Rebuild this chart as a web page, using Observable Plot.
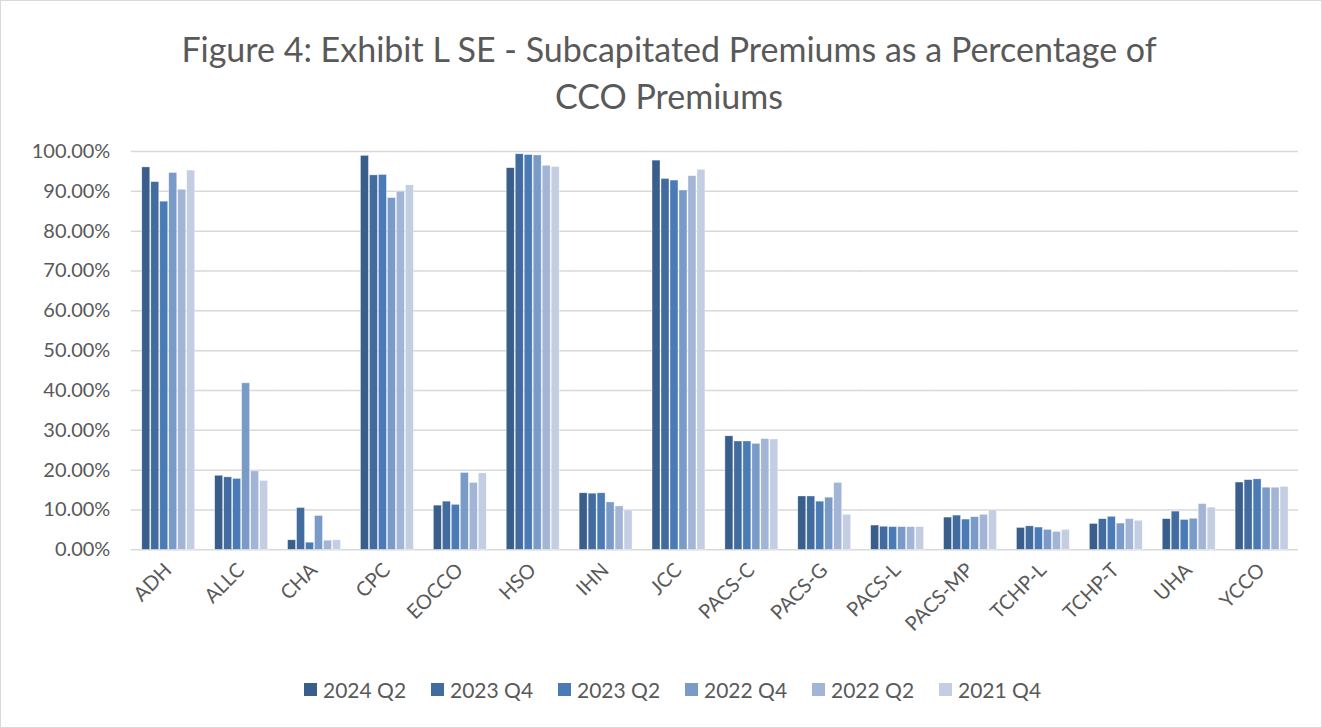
<!DOCTYPE html>
<html>
<head>
<meta charset="utf-8">
<script src="https://cdn.jsdelivr.net/npm/d3@7"></script>
<script src="https://cdn.jsdelivr.net/npm/@observablehq/plot@0.6"></script>
<style>
  html, body { margin: 0; padding: 0; background: #fff; }
  #frame { position: relative; width: 1320px; height: 726px; border: 1px solid #d9d9d9; background: #fff; overflow: hidden; font-family: Lato, "Open Sans", sans-serif; }
  #title { position: absolute; left: 0; top: 24px; width: 1336px; text-align: center; font-size: 34px; line-height: 47px; color: #595959; }
  #chart { position: absolute; left: 0; top: 130px; }
  #legend { position: absolute; left: 303px; top: 676px; display: flex; gap: 28px; font-size: 21px; color: #595959; }
  #legend .item { display: flex; align-items: center; gap: 6px; width: 99px; white-space: nowrap; }
  #legend .sw { width: 13px; height: 13px; display: inline-block; flex: none; }
</style>
</head>
<body>
<div id="frame">
  <div id="title">Figure 4: Exhibit L SE - Subcapitated Premiums as a Percentage of<br>CCO Premiums</div>
  <div id="chart"></div>
  <div id="legend"></div>
</div>
<script>
const categories = ["ADH","ALLC","CHA","CPC","EOCCO","HSO","IHN","JCC","PACS-C","PACS-G","PACS-L","PACS-MP","TCHP-L","TCHP-T","UHA","YCCO"];
const periods = ["2024 Q2","2023 Q4","2023 Q2","2022 Q4","2022 Q2","2021 Q4"];
const colors = ["#3a5e8c","#426ca0","#4a7bb7","#7a9bc8","#a3b5d6","#c3cee3"];
const yTicks = [0,10,20,30,40,50,60,70,80,90,100];

// values (%) per period, in category order
const v2024Q2 = [96.0,18.6,2.4,98.9,11.1,95.8,14.2,97.7,28.5,13.4,6.1,8.1,5.5,6.5,7.7,16.9];
const v2023Q4 = [92.3,18.2,10.5,94.0,12.1,99.3,14.1,93.1,27.2,13.4,5.8,8.6,5.9,7.7,9.6,17.5];
const v2023Q2 = [87.4,17.8,1.8,94.1,11.3,99.1,14.2,92.7,27.2,12.1,5.7,7.6,5.6,8.3,7.5,17.7];
const v2022Q4 = [94.6,41.8,8.5,88.3,19.3,99.0,11.9,90.2,26.6,13.1,5.7,8.2,5.0,6.6,7.8,15.6];
const v2022Q2 = [90.4,19.7,2.3,89.9,16.8,96.4,10.9,93.8,27.8,16.8,5.7,8.8,4.5,7.7,11.5,15.6];
const v2021Q4 = [95.2,17.3,2.4,91.5,19.2,96.1,9.9,95.4,27.7,8.8,5.7,9.9,5.0,7.3,10.6,15.8];

const series = [v2024Q2, v2023Q4, v2023Q2, v2022Q4, v2022Q2, v2021Q4];
const data = [];
categories.forEach((c, i) => {
  periods.forEach((p, j) => data.push({cco: c, period: p, value: series[j][i]}));
});

const textColor = "#595959";
const chart = Plot.plot({
  width: 1322,
  height: 530,
  marginLeft: 130,
  marginRight: 22,
  marginTop: 20,
  marginBottom: 111,
  style: {fontFamily: "Lato, 'Open Sans', sans-serif", fontSize: "20px", color: textColor, background: "transparent"},
  fx: {domain: categories, paddingInner: 0.23, paddingOuter: 0.115, label: null, tickRotate: -45, tickSize: 0, tickPadding: 17},
  x: {domain: periods, padding: 0.12, axis: null},
  y: {domain: [0, 100], ticks: yTicks, tickFormat: d => d.toFixed(2) + "%", label: null, tickSize: 0, tickPadding: 30},
  color: {domain: periods, range: colors},
  marks: [
    Plot.ruleY(yTicks, {stroke: "#d9d9d9", strokeWidth: 1.5, insetLeft: -9, insetRight: -9}),
    Plot.barY(data, {fx: "cco", x: "period", y: "value", fill: "period", stroke: "#ffffff", strokeOpacity: 0.6, strokeWidth: 0.6})
  ]
});
document.getElementById("chart").appendChild(chart);

const legend = document.getElementById("legend");
periods.forEach((p, j) => {
  const item = document.createElement("span");
  item.className = "item";
  const sw = document.createElement("span");
  sw.className = "sw";
  sw.style.background = colors[j];
  const t = document.createElement("span");
  t.textContent = p;
  item.appendChild(sw);
  item.appendChild(t);
  legend.appendChild(item);
});
</script>
</body>
</html>
